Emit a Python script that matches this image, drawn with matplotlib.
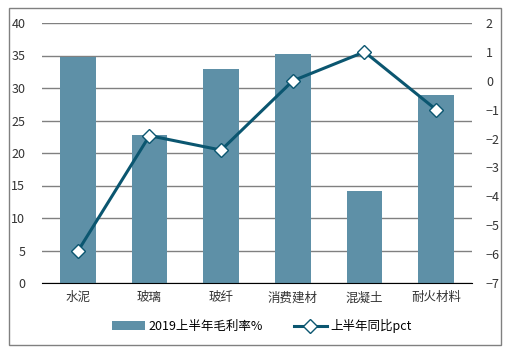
import numpy as np
import matplotlib
matplotlib.use('Agg')
import matplotlib.pyplot as plt
from matplotlib.patches import Rectangle

plt.rcParams['font.family'] = ['Noto Sans CJK SC', 'DejaVu Sans']

categories = ['水泥', '玻璃', '玻纤', '消费建材', '混凝土', '耐火材料']
margin = [34.8, 22.7, 33.0, 35.3, 14.1, 29.0]
yoy = [-5.9, -1.9, -2.4, 0.0, 1.0, -1.0]

bar_color = '#5e90a7'
line_color = '#0b5670'

fig = plt.figure(figsize=(5.25, 3.56), dpi=100)
# outer frame
fig.patches.append(Rectangle((9/525, 1-345/356), 492/525, 337/356, transform=fig.transFigure,
                             fill=False, edgecolor='#808080', lw=1))

ax = fig.add_axes((42/525, 1-283/356, 430/525, 260/356))
x = np.arange(len(categories))
ax.bar(x, margin, width=0.5, color=bar_color, label='2019上半年毛利率%', zorder=2)
ax.set_ylim(0, 40)
ax.set_xlim(-0.5, len(categories)-0.5)
ax.set_yticks(np.arange(0, 41, 5))
ax.yaxis.grid(True, color='#808080', lw=1)
ax.set_axisbelow(True)
for s in ['top', 'right', 'left']:
    ax.spines[s].set_visible(False)
ax.spines['bottom'].set_color('#000000')
ax.set_xticks(x)
ax.set_xticklabels(categories)
ax.tick_params(length=0, labelsize=9, colors='#333333')
ax.tick_params(axis='y', pad=12)
ax.tick_params(axis='x', pad=6)

ax2 = ax.twinx()
ax2.plot(x, yoy, color=line_color, lw=2.2, marker='D', markersize=7,
         markerfacecolor='white', markeredgecolor=line_color, markeredgewidth=1,
         label='上半年同比pct', zorder=3)
ax2.set_ylim(-7, 2)
ax2.set_yticks(np.arange(-7, 3, 1))
for s in ax2.spines.values():
    s.set_visible(False)
ax2.tick_params(length=0, labelsize=9, colors='#333333', pad=10)

h1, l1 = ax.get_legend_handles_labels()
h2, l2 = ax2.get_legend_handles_labels()
fig.legend(h1 + h2, l1 + l2, loc='center', bbox_to_anchor=(262/525, 1-326/356), ncol=2,
           frameon=False, fontsize=9, handlelength=2.6, columnspacing=2.5, handletextpad=0.3)

fig.savefig('out.png', dpi=100)
